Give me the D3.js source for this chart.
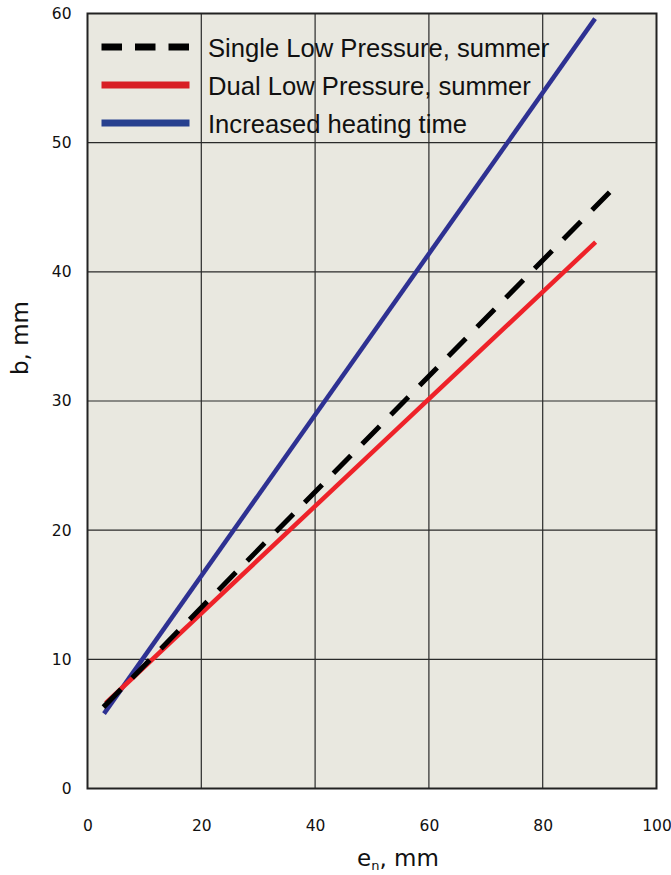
<!DOCTYPE html>
<html>
<head>
<meta charset="utf-8">
<script src="https://cdn.jsdelivr.net/npm/d3@7"></script>
<style>
  body { margin: 0; background: #fff; }
  svg text { fill: #111; }
</style>
</head>
<body>
<div id="chart"></div>
<script>
var width = 671, height = 875;
var margin = ({top: 13.5, right: 14.5, bottom: 86.5, left: 87.5});

// data (e_n in mm, b in mm)
var seriesNames = ["Single Low Pressure, summer", "Dual Low Pressure, summer", "Increased heating time"];
var singleE = [2.8, 92.3];
var singleB = [6.3, 46.4];
var dualE = [3.2, 89.3];
var dualB = [6.6, 42.3];
var heatE = [2.9, 89.2];
var heatB = [5.8, 59.6];
var xTicks = [0, 20, 40, 60, 80, 100];
var yTicks = [0, 10, 20, 30, 40, 50, 60];

var x = d3.scaleLinear().domain([0, 100]).range([margin.left, width - margin.right]);
var y = d3.scaleLinear().domain([0, 60]).range([height - margin.bottom, margin.top]);

var svg = d3.select("#chart").append("svg")
  .attr("width", width)
  .attr("height", height)
  .style("font-family", "'DejaVu Sans', Verdana, sans-serif");

// plot background
svg.append("rect")
  .attr("x", x(0)).attr("y", y(60))
  .attr("width", x(100) - x(0)).attr("height", y(0) - y(60))
  .attr("fill", "#e9e8e0");

// grid
svg.append("g")
  .selectAll("line")
  .data(xTicks.slice(1, -1))
  .join("line")
    .attr("x1", d => x(d)).attr("x2", d => x(d))
    .attr("y1", y(0)).attr("y2", y(60))
    .attr("stroke", "#2a2a2a").attr("stroke-width", 1.2);

svg.append("g")
  .selectAll("line")
  .data(yTicks.slice(1, -1))
  .join("line")
    .attr("x1", x(0)).attr("x2", x(100))
    .attr("y1", d => y(d)).attr("y2", d => y(d))
    .attr("stroke", "#2a2a2a").attr("stroke-width", 1.2);

// frame
svg.append("rect")
  .attr("x", x(0)).attr("y", y(60))
  .attr("width", x(100) - x(0)).attr("height", y(0) - y(60))
  .attr("fill", "none").attr("stroke", "#222").attr("stroke-width", 2);

// axes (labels only)
var xAxis = g => g
  .attr("transform", `translate(0,${y(0) + 31})`)
  .attr("font-family", null)
  .call(d3.axisBottom(x).tickValues(xTicks).tickSize(0).tickPadding(0))
  .call(g => g.select(".domain").remove())
  .call(g => g.selectAll("text").style("font-size", "15.5px").style("font-family", "'DejaVu Sans'").attr("fill", "#111"));

var yAxis = g => g
  .attr("transform", `translate(${x(0) - 16},0)`)
  .call(d3.axisLeft(y).tickValues(yTicks).tickSize(0).tickPadding(0))
  .call(g => g.select(".domain").remove())
  .call(g => g.selectAll("text").style("font-size", "15.5px").style("font-family", "'DejaVu Sans'").attr("fill", "#111"));

svg.append("g").call(xAxis);
svg.append("g").call(yAxis);

// axis titles
var xt = svg.append("text")
  .attr("x", 398).attr("y", 866)
  .attr("text-anchor", "middle")
  .style("font-size", "23px");
xt.append("tspan").text("e");
xt.append("tspan").style("font-size", "13px").attr("dy", 4).text("n");
xt.append("tspan").attr("dy", -4).text(", mm");

svg.append("text")
  .attr("transform", "translate(28,338) rotate(-90)")
  .attr("text-anchor", "middle")
  .style("font-size", "23px")
  .text("b,  mm");

// lines
var line = d3.line()
  .x(d => x(d[0]))
  .y(d => y(d[1]));

function addSeries(es, bs, color, w, dash){
  var pts = es.map((e, i) => [e, bs[i]]);
  svg.append("path")
    .datum(pts)
    .attr("fill", "none")
    .attr("stroke", color)
    .attr("stroke-width", w)
    .attr("stroke-dasharray", dash)
    .attr("d", line);
}

addSeries(heatE, heatB, "#2e3192", 4.5, null);
addSeries(dualE, dualB, "#ee2229", 4.5, null);
addSeries(singleE, singleB, "#000", 5, "25,16");

// legend
var legColors = ["#000", "#d81e25", "#27408f"];
var legDash = ["20.5,13", null, null];
var leg = svg.append("g");
seriesNames.forEach(function(name, i){
  var cy = 47 + i * 38;
  leg.append("line")
    .attr("x1", 101.5).attr("x2", 189.5)
    .attr("y1", cy).attr("y2", cy)
    .attr("stroke", legColors[i])
    .attr("stroke-width", 7)
    .attr("stroke-dasharray", legDash[i]);
  leg.append("text")
    .attr("x", 208).attr("y", cy + 9.5)
    .style("font-family", "'Liberation Sans', Arial, sans-serif")
    .style("font-size", "25.6px")
    .text(name);
});
</script>
</body>
</html>
